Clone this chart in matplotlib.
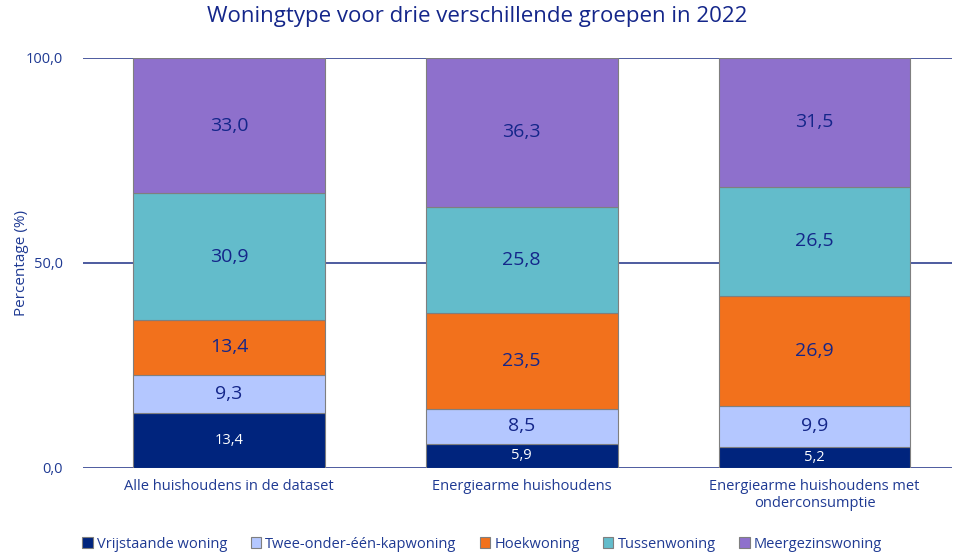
import matplotlib.pyplot as plt
import numpy as np

plt.rcParams['font.family'] = ['Open Sans', 'DejaVu Sans']

# Data
groups = ['Alle huishoudens in de dataset', 'Energiearme huishoudens',
          'Energiearme huishoudens met\nonderconsumptie']
types = ['Vrijstaande woning', 'Twee-onder-één-kapwoning', 'Hoekwoning',
         'Tussenwoning', 'Meergezinswoning']
vrijstaand = [13.4, 5.9, 5.2]
twee_onder = [9.3, 8.5, 9.9]
hoek = [13.4, 23.5, 26.9]
tussen = [30.9, 25.8, 26.5]
meergezins = [33.0, 36.3, 31.5]

series = [vrijstaand, twee_onder, hoek, tussen, meergezins]
colors = ['#00247D', '#B4C7FF', '#F2711C', '#63BCCB', '#8E70CC']
text_col = '#1F3A93'
title_col = '#14268A'

fig = plt.figure(figsize=(9.55, 5.57), dpi=100)
ax = fig.add_axes([0.0864, 0.160, 0.910, 0.736])

x = np.arange(len(groups))
bottom = np.zeros(len(groups))
for i, (vals, col) in enumerate(zip(series, colors)):
    vals = np.array(vals)
    ax.bar(x, vals, 0.655, bottom=bottom, color=col, edgecolor='#7F7F7F',
           linewidth=0.8, label=types[i], zorder=3)
    for xi, b, v in zip(x, bottom, vals):
        lab = f'{v:.1f}'.replace('.', ',')
        if i == 0:
            ax.text(xi, b + v / 2, lab, ha='center', va='center',
                    color='white', fontsize=10.5)
        else:
            ax.text(xi, b + v / 2, lab, ha='center', va='center',
                    color=title_col, fontsize=14)
    bottom += vals

ax.set_xlim(-0.5, 2.468)
ax.set_ylim(0, 100)
ax.set_yticks([0, 50, 100])
ax.set_yticklabels(['0,0', '50,0', '100,0'])
ax.yaxis.grid(True, color='#2F3F8F', linewidth=1.2, zorder=0)
ax.set_axisbelow(True)
for s in ax.spines.values():
    s.set_visible(False)
ax.tick_params(axis='both', length=0, colors=text_col, labelsize=10.5)
ax.tick_params(axis='y', pad=14)
ax.tick_params(axis='x', pad=8)
ax.set_xticks(x)
ax.set_xticklabels(groups)
ax.set_ylabel('Percentage (%)', color=text_col, fontsize=11, labelpad=-2)

fig.suptitle('Woningtype voor drie verschillende groepen in 2022', x=0.5, y=0.99,
             color=title_col, fontsize=16)

leg = fig.legend(loc='lower center', bbox_to_anchor=(0.505, -0.014), ncol=5,
                 frameon=False, fontsize=10.5, handlelength=0.7, handleheight=0.7,
                 handletextpad=0.3, columnspacing=1.6)
for t in leg.get_texts():
    t.set_color(text_col)

fig.savefig('out.png', dpi=100)
